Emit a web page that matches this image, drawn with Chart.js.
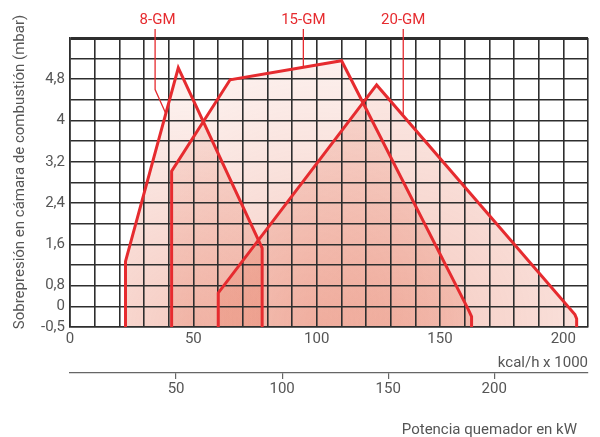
<!DOCTYPE html>
<html lang="es">
<head>
<meta charset="UTF-8">
<title>Quemadores GM - campo de trabajo</title>
<script src="https://cdn.jsdelivr.net/npm/chart.js"></script>
<style>
  html, body { margin: 0; padding: 0; background: #fff; }
  .chart-container { position: relative; width: 600px; height: 437px; }
</style>
</head>
<body>
<div class="chart-container"><canvas id="gmChart"></canvas></div>
<script>
// Working ranges: x in kcal/h x 1000, y in mbar
const gm8Kcal  = [22.5, 22.5, 43.9, 77.9, 77.9];
const gm8Mbar  = [-0.5, 1.27, 5.02, 1.53, -0.5];
const gm15Kcal = [41.2, 41.2, 64.9, 110.1, 161.5, 162.8, 162.8];
const gm15Mbar = [-0.5, 3.02, 4.79, 5.16, -0.08, -0.25, -0.5];
const gm20Kcal = [60.1, 60.1, 124.3, 204.7, 205.4, 205.4];
const gm20Mbar = [-0.5, 0.52, 4.69, -0.2, -0.3, -0.5];

// names on top and their leader lines
const seriesNames = ['8-GM', '15-GM', '20-GM'];
const nameKcal = [35.5, 94.6, 135.1];
const leaderKcal = [[34.5, 38.7], [94.6], [135.1]];
const leaderMbar = [[4.6, 4.15], [5.04], [4.09]];

// axes
const kcalLabels = [0, 50, 100, 150, 200];
const kwTicks = [50, 100, 150, 200];
const mbarTicks = [-0.5, 0, 0.8, 1.6, 2.4, 3.2, 4, 4.8];
const mbarTickLabels = ['-0,5', '0', '0,8', '1,6', '2,4', '3,2', '4', '4,8'];

const RED = '#e62b2f';
const GRID = '#2e2e2e';
const TEXT = '#555';
const FONT = 'Roboto';

// the printed mbar axis is not linear below 0,8: one grid row per 0,5 / 0,8 / 0,4 mbar
function mbarToRow(m) {
    if (m < 0) return 1 + m / 0.5;
    if (m < 0.8) return 1 + m / 0.8;
    return 2 + (m - 0.8) / 0.4;
}

function toPoints(kcal, mbar) {
    return kcal.map((k, i) => ({ x: k, y: mbarToRow(mbar[i]) }));
}

function fillFor(kcal, mbar) {
    return (context) => {
        const chart = context.chart;
        const area = chart.chartArea;
        if (!area || !chart.scales.x) return 'rgba(225,95,65,0.25)';
        const xs = chart.scales.x, ys = chart.scales.y;
        const x0 = xs.getPixelForValue(Math.min(...kcal));
        const x1 = xs.getPixelForValue(Math.max(...kcal));
        const top = ys.getPixelForValue(Math.max(...mbar.map(mbarToRow)));
        const cx = (x0 + x1) / 2, cy = area.bottom;
        const r = Math.max(x1 - x0, cy - top) * 0.9;
        const g = chart.ctx.createRadialGradient(cx, cy, 0, cx, cy, r);
        g.addColorStop(0, 'rgba(225,95,65,0.33)');
        g.addColorStop(1, 'rgba(225,95,65,0.09)');
        return g;
    };
}

function makeSet(name, kcal, mbar) {
    return {
        label: name,
        data: toPoints(kcal, mbar),
        borderColor: RED,
        borderWidth: 3,
        pointRadius: 0,
        tension: 0,
        fill: 'shape',
        backgroundColor: fillFor(kcal, mbar)
    };
}

// texts outside the plot area
const overlayText = {
    id: 'overlayText',
    afterDraw(chart) {
        const { ctx, chartArea, scales: { x, y } } = chart;
        ctx.save();

        ctx.fillStyle = RED;
        ctx.strokeStyle = RED;
        ctx.lineWidth = 1.3;
        ctx.font = '15px ' + FONT;
        ctx.textAlign = 'center';
        ctx.textBaseline = 'middle';
        seriesNames.forEach((name, i) => {
            ctx.fillText(name, x.getPixelForValue(nameKcal[i]), chartArea.top - 18);
            ctx.beginPath();
            ctx.moveTo(x.getPixelForValue(leaderKcal[i][0]), chartArea.top - 9);
            leaderKcal[i].forEach((k, j) => {
                ctx.lineTo(x.getPixelForValue(k), y.getPixelForValue(mbarToRow(leaderMbar[i][j])));
            });
            ctx.stroke();
        });

        ctx.fillStyle = TEXT;
        ctx.font = '15px ' + FONT;
        ctx.textAlign = 'right';
        ctx.fillText('Potencia quemador en kW', chartArea.right - 11, 430);

        ctx.translate(20, 172);
        ctx.rotate(-Math.PI / 2);
        ctx.textAlign = 'center';
        ctx.fillText('Sobrepresión en cámara de combustión (mbar)', 0, 0);
        ctx.restore();
    }
};

new Chart(document.getElementById('gmChart'), {
    type: 'line',
    data: {
        datasets: [
            makeSet('8-GM', gm8Kcal, gm8Mbar),
            makeSet('15-GM', gm15Kcal, gm15Mbar),
            makeSet('20-GM', gm20Kcal, gm20Mbar)
        ]
    },
    options: {
        responsive: true,
        maintainAspectRatio: false,
        animation: false,
        layout: { padding: { top: 38, right: 12, bottom: 0, left: 0 } },
        plugins: {
            legend: { display: false },
            tooltip: { enabled: false },
            filler: { drawTime: 'beforeDraw' }
        },
        scales: {
            x: {
                type: 'linear',
                min: 0,
                max: 210,
                weight: 0,
                afterFit: s => { s.height = 46; },
                ticks: {
                    stepSize: 10,
                    autoSkip: false,
                    maxRotation: 0,
                    padding: 3,
                    color: TEXT,
                    font: { family: FONT, size: 15 },
                    callback: v => kcalLabels.includes(v) ? String(v) : ''
                },
                grid: { color: GRID, lineWidth: 1.6, drawTicks: false },
                border: { color: GRID, width: 1.6 },
                title: {
                    display: true,
                    text: 'kcal/h x 1000',
                    align: 'end',
                    color: TEXT,
                    font: { family: FONT, size: 15 },
                    padding: { top: 0, bottom: 1 }
                }
            },
            x2: {
                type: 'linear',
                position: 'bottom',
                min: 0,
                max: 210 / 0.86,
                weight: 1,
                afterFit: s => { s.height = 64; },
                afterBuildTicks: s => { s.ticks = kwTicks.map(v => ({ value: v })); },
                ticks: {
                    autoSkip: false,
                    maxRotation: 0,
                    padding: 1,
                    color: TEXT,
                    font: { family: FONT, size: 15 }
                },
                grid: { drawOnChartArea: false, color: '#666', lineWidth: 1.2, tickLength: 6 },
                border: { color: '#666', width: 1.2 }
            },
            y: {
                type: 'linear',
                min: 0,
                max: 14,
                afterFit: s => { s.width = 70; },
                ticks: {
                    stepSize: 1,
                    autoSkip: false,
                    padding: 5,
                    color: TEXT,
                    font: { family: FONT, size: 15 },
                    callback: v => {
                        const i = mbarTicks.findIndex(m => Math.abs(mbarToRow(m) - v) < 1e-6);
                        return i >= 0 ? mbarTickLabels[i] : '';
                    }
                },
                grid: {
                    color: GRID,
                    drawTicks: false,
                    lineWidth: c => c.tick && c.tick.value === 14 ? 3 : 1.6
                },
                border: { color: GRID, width: 1.6 }
            }
        }
    },
    plugins: [overlayText]
});
</script>
</body>
</html>
